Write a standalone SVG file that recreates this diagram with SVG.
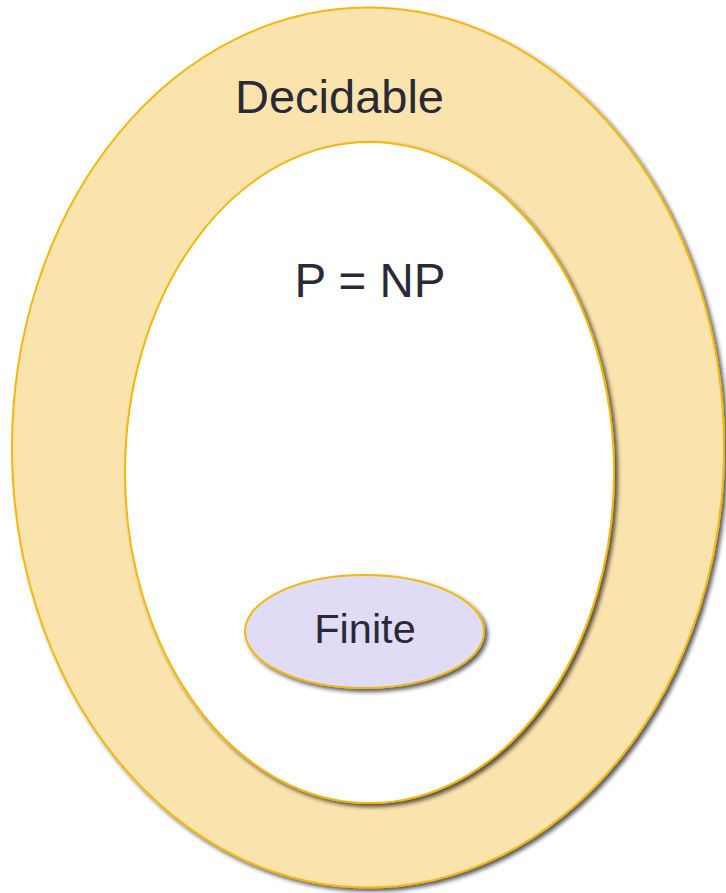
<svg xmlns="http://www.w3.org/2000/svg" width="726" height="893" viewBox="0 0 726 893">
  <defs>
    <filter id="sh" x="-10%" y="-10%" width="120%" height="120%">
      <feGaussianBlur in="SourceAlpha" stdDeviation="2"/>
      <feOffset dx="3" dy="3" result="b"/>
      <feComponentTransfer><feFuncA type="linear" slope="0.65"/></feComponentTransfer>
      <feMerge><feMergeNode/><feMergeNode in="SourceGraphic"/></feMerge>
    </filter>
  </defs>
  <style>
    .set { stroke: #F2B80E; stroke-width: 2; filter: url(#sh); }
    .lbl { font-family: "Liberation Sans", Arial, sans-serif; fill: #2A2A36; text-anchor: middle; }
  </style>
  <rect width="726" height="893" fill="#FFFFFF"/>
  <g id="decidable">
    <ellipse class="set" cx="368" cy="447.5" rx="356" ry="440" fill="#FAE3AD"/>
    <text class="lbl" x="339.5" y="113" font-size="47">Decidable</text>
  </g>
  <g id="p-np">
    <ellipse class="set" cx="369.5" cy="472.5" rx="244.5" ry="330.5" fill="#FFFFFF"/>
    <text class="lbl" x="370" y="297" font-size="47.5">P = NP</text>
  </g>
  <g id="finite">
    <ellipse class="set" cx="364.5" cy="631.5" rx="119.5" ry="56.5" fill="#E0DCF6"/>
    <text class="lbl" x="365" y="643" font-size="41.5">Finite</text>
  </g>
  <g id="connectors"/>
</svg>
